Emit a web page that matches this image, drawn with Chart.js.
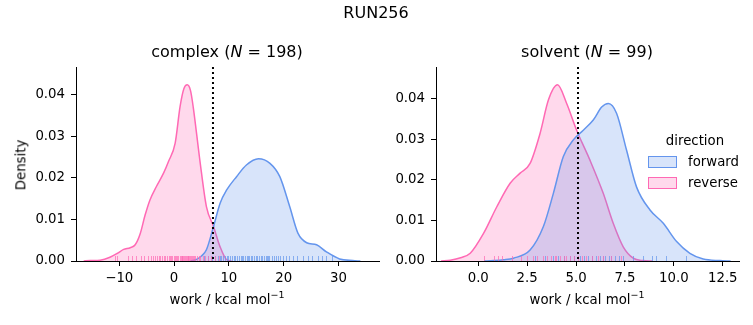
<!DOCTYPE html>
<html>
<head>
<meta charset="utf-8">
<script src="https://cdn.jsdelivr.net/npm/chart.js@4.4.1/dist/chart.umd.min.js"></script>
<style>
  body { margin: 0; background: #fff; width: 753px; height: 325px; position: relative; overflow: hidden;
         font-family: "DejaVu Sans", sans-serif; color: #000; }
  canvas { position: absolute; top: 0; }
  .t { position: absolute; white-space: nowrap; transform: translate(-50%, -50%); line-height: 1; }
  .lbl { font-size: 13.3px; }
  .ttl { font-size: 16px; }
  .patch { position: absolute; width: 27px; height: 10px; box-sizing: content-box; }
  sup { font-size: 9.5px; vertical-align: 0; position: relative; top: -6px; }
</style>
</head>
<body>
<canvas id="complex" width="395" height="325" style="left:0"></canvas>
<canvas id="solvent" width="358" height="325" style="left:395px"></canvas>

<div class="t ttl" style="left:376px; top:13px">RUN256</div>
<div class="t ttl" style="left:227px; top:52px">complex (<i>N</i> = 198)</div>
<div class="t ttl" style="left:587px; top:52px">solvent (<i>N</i> = 99)</div>
<div class="t lbl" style="left:227px; top:300px">work / kcal mol<sup>−1</sup></div>
<div class="t lbl" style="left:587px; top:300px">work / kcal mol<sup>−1</sup></div>
<div class="t lbl" style="left:21px; top:165px; transform:translate(-50%,-50%) rotate(-90deg)">Density</div>

<div class="t lbl" style="left:695px; top:141px">direction</div>
<div class="patch" style="left:648px; top:156px; border:1px solid #6495ed; background:rgba(100,149,237,0.25)"></div>
<div class="patch" style="left:648px; top:177px; border:1px solid #ff69b4; background:rgba(255,105,180,0.25)"></div>
<div class="lbl" style="position:absolute; left:688px; top:154px">forward</div>
<div class="lbl" style="position:absolute; left:688px; top:175px">reverse</div>

<script>
// complex leg: kde curves
const complexFwdX = [3.0, 4.1, 5.0, 5.9, 7.2, 8.4, 9.6, 11.4, 13.2, 15.4, 17.5, 19.3, 21.1, 22.6, 24.2, 26.0, 27.8, 30.2, 32.6, 34.0];
const complexFwdY = [0, 0.0004, 0.0012, 0.0027, 0.0083, 0.0139, 0.0171, 0.0203, 0.0231, 0.0246, 0.0235, 0.0203, 0.0131, 0.0067, 0.0044, 0.0039, 0.0022, 0.0005, 0.0001, 0];
const complexRevX = [-16.5, -15.3, -13.5, -11.7, -10.4, -9.2, -8.0, -7.1, -6.2, -5.3, -4.4, -3.2, -1.9, -1.0, 0.2, 1.1, 1.8, 2.4, 3.0, 3.5, 4.7, 5.9, 7.2, 8.4, 9.6, 10.5];
const complexRevY = [0, 0.0001, 0.0002, 0.0009, 0.0018, 0.0028, 0.0032, 0.0039, 0.0065, 0.0110, 0.0147, 0.0180, 0.0212, 0.0240, 0.0284, 0.0372, 0.0415, 0.0424, 0.0410, 0.0370, 0.0243, 0.0131, 0.0083, 0.0034, 0.0003, 0];
const complexRugFwd = [5.4, 6.2, 6.9, 7.5, 8.0, 8.3, 8.5, 8.9, 9.3, 9.6, 9.8, 10.2, 10.6, 11.0, 11.2, 11.4, 11.8, 12.2, 12.4, 12.6, 13.0, 13.3, 13.5, 13.7, 14.0, 14.3, 14.6, 14.9, 15.2, 15.5, 15.8, 16.1, 16.4, 16.7, 17.0, 17.2, 17.4, 17.8, 18.2, 18.6, 19.0, 19.4, 19.9, 20.4, 20.9, 21.7, 22.4, 23.5, 24.4, 25.1, 26.2, 27.0, 27.7, 28.8];
const complexRugRev = [-10.8, -10.4, -8.4, -7.6, -6.9, -6.1, -5.5, -4.8, -4.3, -3.9, -3.5, -3.2, -2.8, -2.5, -2.2, -1.9, -1.6, -1.3, -1.0, -0.8, -0.5, -0.3, 0.0, 0.2, 0.4, 0.6, 0.8, 1.0, 1.2, 1.4, 1.5, 1.7, 1.9, 2.0, 2.2, 2.3, 2.5, 2.6, 2.8, 2.9, 3.1, 3.3, 3.5, 3.7, 3.9, 4.2, 4.5, 4.8, 5.2, 5.6, 6.1, 6.7, 7.4, 8.2];
const complexCut = 7.1;
const complexXTicks = [-10, 0, 10, 20, 30];

// solvent leg
const solventFwdX = [0.3, 0.78, 1.3, 1.8, 2.65, 3.33, 3.84, 4.35, 4.86, 5.37, 5.88, 6.31, 6.65, 7.07, 7.58, 8.09, 8.78, 9.46, 10.14, 10.82, 11.5, 12.35, 12.9];
const solventFwdY = [0, 0.0001, 0.0003, 0.0007, 0.0027, 0.0085, 0.0167, 0.0258, 0.0299, 0.0323, 0.0348, 0.0380, 0.0389, 0.0365, 0.0274, 0.0183, 0.0126, 0.0093, 0.0048, 0.0019, 0.0005, 0.0001, 0];
const solventRevX = [-1.9, -1.43, -0.9, -0.41, 0.27, 0.95, 1.63, 2.14, 2.65, 3.16, 3.59, 4.05, 4.52, 5.03, 5.71, 6.39, 6.9, 7.41, 7.92, 8.43, 8.9];
const solventRevY = [0, 0.0002, 0.0008, 0.0019, 0.0068, 0.0134, 0.0192, 0.0217, 0.0241, 0.0315, 0.0398, 0.0435, 0.0389, 0.0323, 0.0249, 0.0167, 0.0093, 0.0035, 0.0007, 0.0001, 0];
const solventRugFwd = [2.9, 3.4, 3.8, 4.1, 4.4, 4.7, 4.9, 5.2, 5.4, 5.6, 5.8, 6.0, 6.2, 6.4, 6.5, 6.7, 6.8, 7.0, 7.2, 7.4, 7.9, 8.4, 8.9, 9.1, 9.6, 10.6];
const solventRugRev = [0.3, 0.8, 1.0, 1.2, 1.7, 2.2, 2.5, 2.8, 3.0, 3.3, 3.5, 3.7, 3.9, 4.0, 4.2, 4.4, 4.5, 4.7, 4.9, 5.1, 5.3, 5.5, 5.8, 6.1, 6.4, 6.8, 7.3];
const solventCut = 5.1;
const solventXTicks = [0, 2.5, 5, 7.5, 10, 12.5];

const yTicks = [0, 0.01, 0.02, 0.03, 0.04];

const blue = '#6495ed', blueFill = 'rgba(100,149,237,0.25)';
const pink = '#ff69b4', pinkFill = 'rgba(255,105,180,0.25)';
const tickFont = { family: 'DejaVu Sans', size: 13.3 };

function pts(xs, ys) {
    return xs.map((x, i) => ({ x: x, y: ys[i] }));
}

// rug ticks + dotted cut line, drawn via the chart scales
function extras(rugFwd, rugRev, cut) {
    return {
        id: 'extras',
        afterDatasetsDraw(chart) {
            const ctx = chart.ctx, xs = chart.scales.x, ys = chart.scales.y;
            const base = ys.getPixelForValue(0);
            ctx.save();
            ctx.lineWidth = 1;
            [[rugFwd, 'rgba(100,149,237,0.7)'], [rugRev, 'rgba(255,105,180,0.7)']].forEach(([vals, col]) => {
                ctx.strokeStyle = col;
                vals.forEach(v => {
                    const px = Math.round(xs.getPixelForValue(v)) + 0.5;
                    ctx.beginPath();
                    ctx.moveTo(px, base);
                    ctx.lineTo(px, base - 5);
                    ctx.stroke();
                });
            });
            const cx = xs.getPixelForValue(cut);
            ctx.strokeStyle = '#000';
            ctx.lineWidth = 2;
            ctx.setLineDash([2, 3]);
            ctx.beginPath();
            ctx.moveTo(cx, chart.chartArea.top);
            ctx.lineTo(cx, chart.chartArea.bottom);
            ctx.stroke();
            ctx.restore();
        }
    };
}

function buildChart(id, cfg) {
    return new Chart(document.getElementById(id), {
        type: 'line',
        data: {
            datasets: [
                { label: 'forward', data: pts(cfg.fwdX, cfg.fwdY), borderColor: blue, backgroundColor: blueFill,
                  fill: 'origin', borderWidth: 1.5, pointRadius: 0, cubicInterpolationMode: 'monotone' },
                { label: 'reverse', data: pts(cfg.revX, cfg.revY), borderColor: pink, backgroundColor: pinkFill,
                  fill: 'origin', borderWidth: 1.5, pointRadius: 0, cubicInterpolationMode: 'monotone' }
            ]
        },
        options: {
            responsive: false,
            animation: false,
            devicePixelRatio: 1,
            layout: { padding: { left: 0, top: 67, right: cfg.padRight, bottom: 24 } },
            plugins: { legend: { display: false }, tooltip: { enabled: false } },
            scales: {
                x: {
                    type: 'linear', min: cfg.xMin, max: cfg.xMax,
                    afterBuildTicks: s => { s.ticks = cfg.xTicks.map(v => ({ value: v })); },
                    afterFit: s => { s.height = 40; },
                    grid: { drawOnChartArea: false, tickLength: 5, tickColor: '#000', tickWidth: 1 },
                    border: { color: '#000', width: 1 },
                    ticks: { font: tickFont, color: '#000', padding: 5, maxRotation: 0, autoSkip: false,
                             callback: cfg.xFmt }
                },
                y: {
                    type: 'linear', min: 0, max: cfg.yMax,
                    afterBuildTicks: s => { s.ticks = yTicks.map(v => ({ value: v })); },
                    afterFit: s => { s.width = cfg.yWidth; },
                    grid: { drawOnChartArea: false, tickLength: 5, tickColor: '#000', tickWidth: 1 },
                    border: { color: '#000', width: 1 },
                    ticks: { font: tickFont, color: '#000', padding: 6, autoSkip: false,
                             callback: v => v.toFixed(2) }
                }
            }
        },
        plugins: [extras(cfg.rugFwd, cfg.rugRev, cfg.cut)]
    });
}

buildChart('complex', {
    fwdX: complexFwdX, fwdY: complexFwdY, revX: complexRevX, revY: complexRevY,
    rugFwd: complexRugFwd, rugRev: complexRugRev, cut: complexCut, xTicks: complexXTicks,
    xMin: -17.9, xMax: 37.4, yMax: 0.0467, yWidth: 76, padRight: 16,
    xFmt: v => String(v).replace('-', '\u2212')
});

buildChart('solvent', {
    fwdX: solventFwdX, fwdY: solventFwdY, revX: solventRevX, revY: solventRevY,
    rugFwd: solventRugFwd, rugRev: solventRugRev, cut: solventCut, xTicks: solventXTicks,
    xMin: -2.16, xMax: 13.33, yMax: 0.0479, yWidth: 41, padRight: 14,
    xFmt: v => v.toFixed(1)
});
</script>
</body>
</html>
